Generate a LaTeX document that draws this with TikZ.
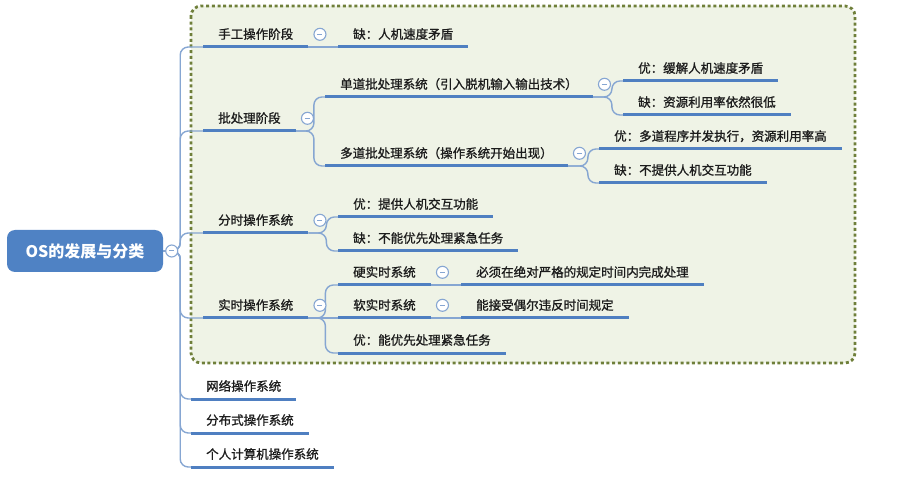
\documentclass[tikz,border=0pt]{standalone}
\usepackage{fontspec}
\setmainfont{Noto Sans CJK SC}
\newfontfamily\topicfont{Noto Sans CJK SC}[FakeBold=1.1]
\usetikzlibrary{positioning}

\definecolor{ulblue}{HTML}{4F7FC1}
\definecolor{lnblue}{HTML}{86A6D2}
\definecolor{rootblue}{HTML}{4F82C4}
\definecolor{boxfill}{HTML}{EFF3E6}
\definecolor{boxdot}{HTML}{6F7F3A}
\definecolor{txt}{HTML}{1C1C1C}

\tikzset{
  topic/.style={font=\topicfont\fontsize{12.5}{15}\selectfont, text=txt, inner xsep=15pt,
    inner ysep=6pt, text height=11pt, text depth=2pt, anchor=south west},
  uline/.style={draw=ulblue, line width=3pt},
  conn/.style={draw=lnblue, line width=1.4pt, rounded corners=8pt},
  fold/.style={circle, draw=lnblue, fill=white, line width=1.1pt, minimum size=12pt,
    inner sep=0pt, path picture={\draw[lnblue, line width=1pt]
      ([xshift=-2.5pt]path picture bounding box.center) --
      ([xshift=2.5pt]path picture bounding box.center);}},
}

\begin{document}
\begin{tikzpicture}[x=1pt, y=-1pt]
\useasboundingbox (0,0) rectangle (897,478);

% dotted frame
\draw[boxdot, fill=boxfill, line width=2.8pt, dash pattern=on 3pt off 2.7pt,
      rounded corners=10pt] (191,6) rectangle (855,363);

% root
\node[fill=rootblue, rounded corners=8pt, minimum width=156pt, minimum height=42pt,
      text=white, font=\fontsize{16}{19}\selectfont\bfseries] (root) at (85,251) {OS的发展与分类};

% first level
\node[topic] (manual)   at (203,47)  {手工操作阶段};
\node[topic] (batch)    at (203,131) {批处理阶段};
\node[topic] (share)    at (203,233) {分时操作系统};
\node[topic] (real)     at (203,318) {实时操作系统};
\node[topic] (network)  at (191,399) {网络操作系统};
\node[topic] (distrib)  at (191,433) {分布式操作系统};
\node[topic] (personal) at (191,467) {个人计算机操作系统};

% second level
\node[topic] (manualcon) at (338,47)  {缺：人机速度矛盾};
\node[topic] (single)    at (325,97)  {单道批处理系统（引入脱机输入输出技术）};
\node[topic] (multi)     at (325,166) {多道批处理系统（操作系统开始出现）};
\node[topic] (sharepro)  at (338,217) {优：提供人机交互功能};
\node[topic] (sharecon)  at (338,251) {缺：不能优先处理紧急任务};
\node[topic] (hard)      at (338,285) {硬实时系统};
\node[topic] (soft)      at (338,318) {软实时系统};
\node[topic] (realpro)   at (338,353) {优：能优先处理紧急任务};

% third level
\node[topic] (singlepro) at (623,81)  {优：缓解人机速度矛盾};
\node[topic] (singlecon) at (623,115) {缺：资源利用率依然很低};
\node[topic] (multipro)  at (599,149) {优：多道程序并发执行，资源利用率高};
\node[topic] (multicon)  at (599,183) {缺：不提供人机交互功能};
\node[topic] (harddesc)  at (461,285) {必须在绝对严格的规定时间内完成处理};
\node[topic] (softdesc)  at (461,318) {能接受偶尔违反时间规定};

% connectors
\foreach \n in {manual,batch,share,real,network,distrib,personal}
  \draw[conn] (root.east) -- ++(17,0) |- (\n.south west);
\draw[conn] (manual.south east) -- (manualcon.south west);
\foreach \n in {single,multi}
  \draw[conn] (batch.south east) -- ++(18,0) |- (\n.south west);
\foreach \n in {singlepro,singlecon}
  \draw[conn] (single.south east) -- ++(19,0) |- (\n.south west);
\foreach \n in {multipro,multicon}
  \draw[conn] (multi.south east) -- ++(20,0) |- (\n.south west);
\foreach \n in {sharepro,sharecon}
  \draw[conn] (share.south east) -- ++(18,0) |- (\n.south west);
\foreach \n in {hard,realpro}
  \draw[conn] (real.south east) -- ++(17,0) |- (\n.south west);
\draw[conn] (real.south east) -- (soft.south west);
\draw[conn] (hard.south east) -- (harddesc.south west);
\draw[conn] (soft.south east) -- (softdesc.south west);

% underlines
\foreach \n in {manual,batch,share,real,network,distrib,personal,manualcon,single,multi,
                sharepro,sharecon,hard,soft,realpro,singlepro,singlecon,multipro,multicon,
                harddesc,softdesc}
  \draw[uline] (\n.south west) -- (\n.south east);

% fold buttons
\node[fold, right=2pt of root] (froot) {};
\foreach \n in {manual,batch,single,multi,share,real,hard,soft}
  \node[fold, right=5pt of \n] (f\n) {};
\end{tikzpicture}
\end{document}
